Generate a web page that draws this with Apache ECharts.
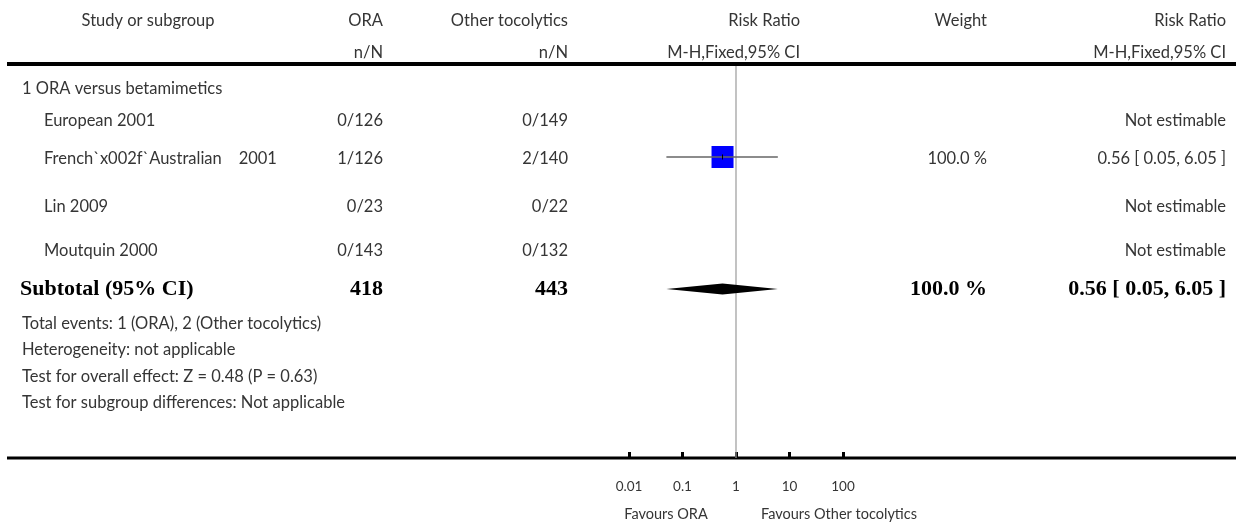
<!DOCTYPE html>
<html>
<head>
<meta charset="utf-8">
<script src="https://cdn.jsdelivr.net/npm/echarts@6/dist/echarts.min.js"></script>
<style>
  html, body { margin: 0; padding: 0; background: #fff; }
  #chart { width: 1236px; height: 529px; }
</style>
</head>
<body>
<div id="chart"></div>
<script>
// ---- data ----
const groupLabel = '1 ORA versus betamimetics';
const studies = ['European 2001', 'French`x002f`Australian    2001', 'Lin 2009', 'Moutquin 2000'];
const oraEvents = [0, 1, 0, 0];
const oraTotals = [126, 126, 23, 143];
const otherEvents = [0, 2, 0, 0];
const otherTotals = [149, 140, 22, 132];
const studyRR = [null, 0.56, null, null];
const studyLow = [null, 0.05, null, null];
const studyHigh = [null, 6.05, null, null];
const studyWeight = [null, 100.0, null, null];

const subtotalLabel = 'Subtotal (95% CI)';
const subtotalOra = 418;
const subtotalOther = 443;
const subtotalRR = 0.56;
const subtotalLow = 0.05;
const subtotalHigh = 6.05;
const subtotalWeight = 100.0;

const footnotes = [
  'Total events: 1 (ORA), 2 (Other tocolytics)',
  'Heterogeneity: not applicable',
  'Test for overall effect: Z = 0.48 (P = 0.63)',
  'Test for subgroup differences: Not applicable'
];

const tickValues = [0.01, 0.1, 1, 10, 100];
const tickLabels = ['0.01', '0.1', '1', '10', '100'];
const favoursLeft = 'Favours ORA';
const favoursRight = 'Favours Other tocolytics';

// ---- layout ----
const W = 1236;
const plotTop = 66, plotBottom = 458;
const headerY1 = 19, headerY2 = 51, headerRuleY = 64;
const groupY = 87;
const rowY = [119, 157, 205, 249];
const subtotalY = 289;
const footY = [322, 348, 375, 401];
const favoursY = 514;
const textNudge = 1.5;   // optical offset of the sans text against the row centre

const colOraR = 383, colOtherR = 568, colRRHeadR = 800, colWeightR = 987, colCIR = 1226;
const studyX = 44, groupX = 22;

const sansFamily = 'Lato, "Open Sans", sans-serif';
const sansFont = '16.5px ' + sansFamily;
const boldFont = 'bold 22px "Liberation Serif", "DejaVu Serif", serif';
const textColor = '#353535';

function fmtCI(rr, lo, hi) {
  return rr.toFixed(2) + ' [ ' + lo.toFixed(2) + ', ' + hi.toFixed(2) + ' ]';
}
function txt(text, x, y, align, font, color) {
  return {
    type: 'text', silent: true,
    style: { text: text, x: x, y: font ? y : y + textNudge, textAlign: align, textVerticalAlign: 'middle',
             font: font || sansFont, fill: color || textColor }
  };
}

const g = [];
// header
g.push(txt('Study or subgroup', 148, headerY1, 'center'));
g.push(txt('ORA', colOraR, headerY1, 'right'));
g.push(txt('n/N', colOraR, headerY2, 'right'));
g.push(txt('Other tocolytics', colOtherR, headerY1, 'right'));
g.push(txt('n/N', colOtherR, headerY2, 'right'));
g.push(txt('Risk Ratio', colRRHeadR, headerY1, 'right'));
g.push(txt('M-H,Fixed,95% CI', colRRHeadR, headerY2, 'right'));
g.push(txt('Weight', colWeightR, headerY1, 'right'));
g.push(txt('Risk Ratio', colCIR, headerY1, 'right'));
g.push(txt('M-H,Fixed,95% CI', colCIR, headerY2, 'right'));
g.push({ type: 'line', silent: true, shape: { x1: 7, y1: headerRuleY, x2: W, y2: headerRuleY },
         style: { stroke: '#000', lineWidth: 4 } });

// group and study rows
g.push(txt(groupLabel, groupX, groupY, 'left'));
studies.forEach(function (s, i) {
  g.push(txt(s, studyX, rowY[i], 'left'));
  g.push(txt(oraEvents[i] + '/' + oraTotals[i], colOraR, rowY[i], 'right'));
  g.push(txt(otherEvents[i] + '/' + otherTotals[i], colOtherR, rowY[i], 'right'));
  if (studyRR[i] != null) {
    g.push(txt(studyWeight[i].toFixed(1) + ' %', colWeightR, rowY[i], 'right'));
    g.push(txt(fmtCI(studyRR[i], studyLow[i], studyHigh[i]), colCIR, rowY[i], 'right'));
  } else {
    g.push(txt('Not estimable', colCIR, rowY[i], 'right'));
  }
});

// subtotal
g.push(txt(subtotalLabel, 20, subtotalY, 'left', boldFont, '#000'));
g.push(txt(String(subtotalOra), colOraR, subtotalY, 'right', boldFont, '#000'));
g.push(txt(String(subtotalOther), colOtherR, subtotalY, 'right', boldFont, '#000'));
g.push(txt(subtotalWeight.toFixed(1) + ' %', colWeightR, subtotalY, 'right', boldFont, '#000'));
g.push(txt(fmtCI(subtotalRR, subtotalLow, subtotalHigh), colCIR, subtotalY, 'right', boldFont, '#000'));

footnotes.forEach(function (f, i) { g.push(txt(f, groupX, footY[i], 'left')); });

// bottom rule (axis baseline)
g.push({ type: 'line', silent: true, shape: { x1: 7, y1: plotBottom, x2: W, y2: plotBottom },
         style: { stroke: '#000', lineWidth: 3 } });

const chart = echarts.init(document.getElementById('chart'), null, { renderer: 'canvas' });

const studyData = [];
studies.forEach(function (s, i) {
  if (studyRR[i] != null) studyData.push([studyRR[i], studyLow[i], studyHigh[i], rowY[i], studyWeight[i]]);
});

chart.setOption({
  animation: false,
  backgroundColor: '#fff',
  grid: { left: 629, width: 214, top: plotTop, height: plotBottom - plotTop },
  xAxis: {
    type: 'log', logBase: 10, min: 0.01, max: 100, interval: 1,
    axisLine: { show: false },
    axisTick: { show: true, inside: true, length: 6, lineStyle: { color: '#000', width: 3 } },
    minorTick: { show: false },
    splitLine: { show: false },
    axisLabel: {
      margin: 22, fontSize: 13.5, color: textColor, fontFamily: sansFamily,
      formatter: function (v) {
        const k = tickValues.findIndex(function (t) { return Math.abs(Math.log10(t) - Math.log10(v)) < 1e-6; });
        return k >= 0 ? tickLabels[k] : '';
      }
    }
  },
  yAxis: { type: 'value', min: plotTop, max: plotBottom, inverse: true, show: false },
  graphic: g.concat([
    txt(favoursLeft, 666, favoursY, 'center', '14.5px ' + sansFamily),
    txt(favoursRight, 839, favoursY, 'center', '14.5px ' + sansFamily)
  ]),
  series: [
    {
      // line of no effect
      type: 'custom', silent: true, z: 1,
      data: [[1]],
      renderItem: function (params, api) {
        const a = api.coord([api.value(0), plotTop]);
        const b = api.coord([api.value(0), plotBottom]);
        return { type: 'line', shape: { x1: a[0], y1: a[1], x2: b[0], y2: b[1] },
                 style: { stroke: '#9a9a9a', lineWidth: 1.2 } };
      }
    },
    {
      // study estimates: CI whisker + weighted square
      type: 'custom', silent: true, z: 3,
      data: studyData,
      renderItem: function (params, api) {
        const y = api.value(3);
        const c = api.coord([api.value(0), y]);
        const lo = api.coord([api.value(1), y]);
        const hi = api.coord([api.value(2), y]);
        const size = 22 * Math.sqrt(api.value(4) / 100);
        return {
          type: 'group',
          children: [
            { type: 'rect', shape: { x: c[0] - size / 2, y: c[1] - size / 2, width: size, height: size },
              style: { fill: '#0000ff' } },
            { type: 'line', shape: { x1: lo[0], y1: c[1], x2: hi[0], y2: c[1] },
              style: { stroke: '#666', lineWidth: 1.6 } },
            { type: 'line', shape: { x1: c[0], y1: c[1] - 2.5, x2: c[0], y2: c[1] + 2.5 },
              style: { stroke: '#000', lineWidth: 1 } }
          ]
        };
      }
    },
    {
      // pooled estimate diamond
      type: 'custom', silent: true, z: 3,
      data: [[subtotalRR, subtotalLow, subtotalHigh, subtotalY]],
      renderItem: function (params, api) {
        const y = api.value(3);
        const c = api.coord([api.value(0), y]);
        const lo = api.coord([api.value(1), y]);
        const hi = api.coord([api.value(2), y]);
        const h = 5.5;
        return { type: 'polygon',
                 shape: { points: [[lo[0], c[1]], [c[0], c[1] - h], [hi[0], c[1]], [c[0], c[1] + h]] },
                 style: { fill: '#000' } };
      }
    }
  ]
});
</script>
</body>
</html>
